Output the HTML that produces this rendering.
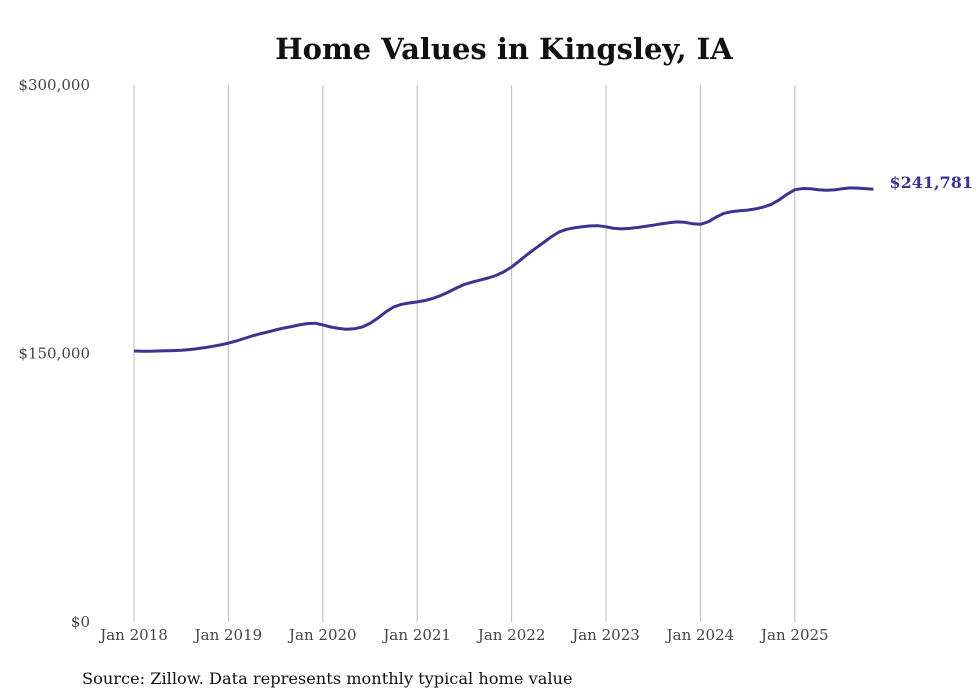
<!DOCTYPE html>
<html><head><meta charset="utf-8">
<style>
body{margin:0;background:#fff;}
svg{display:block;font-family:"DejaVu Serif","Liberation Serif",serif;}
</style></head>
<body>
<svg id="chart" width="980" height="699">
<text x="504" y="59" text-anchor="middle" font-size="29" font-weight="bold" fill="#111">Home Values in Kingsley, IA</text>
<g id="grid"></g>
<g id="yaxis"></g>
<g id="xaxis"></g>
<path id="line" fill="none" stroke="#3b3493" stroke-width="3" stroke-linejoin="round"></path>
<text id="endlabel" font-size="16" font-weight="bold" fill="#3b3493"></text>
<text x="82" y="684" font-size="16.2" fill="#111">Source: Zillow. Data represents monthly typical home value</text>
</svg>
<script>
const startYear = 2018;
const values = [
151.4,151.3,151.3,151.4,151.5,151.6,151.8,152.2,152.7,153.3,154.0,154.8,
155.8,157.0,158.4,159.8,161.0,162.0,163.2,164.2,165.0,166.0,166.7,166.9,
166.0,164.8,164.0,163.6,163.8,164.8,166.8,169.8,173.2,176.0,177.5,178.2,
178.8,179.6,180.8,182.4,184.4,186.6,188.6,189.9,191.0,192.2,193.6,195.6,
198.3,201.8,205.3,208.6,211.8,215.0,217.8,219.4,220.2,220.8,221.3,221.4,
220.8,219.9,219.6,219.9,220.4,221.0,221.7,222.4,223.0,223.5,223.3,222.5,
222.2,223.6,226.2,228.3,229.3,229.7,230.1,230.8,231.8,233.3,235.8,238.9,
241.5,242.2,242.0,241.5,241.2,241.4,242.0,242.5,242.4,242.1,241.781];
const xTickLabels = ["Jan 2018","Jan 2019","Jan 2020","Jan 2021","Jan 2022","Jan 2023","Jan 2024","Jan 2025"];
const yTicks = [0,150,300];
const yTickLabels = ["$0","$150,000","$300,000"];

const NS="http://www.w3.org/2000/svg";
const x0=134, yearW=94.4, yTop=85, yBot=622;
const xs = m => x0 + m*yearW/12;
const ys = v => yBot - v/300*(yBot-yTop);
const grid=document.getElementById('grid'), xa=document.getElementById('xaxis'), ya=document.getElementById('yaxis');
xTickLabels.forEach((l,i)=>{
  const x=xs(i*12);
  const ln=document.createElementNS(NS,'line');
  ln.setAttribute('x1',x);ln.setAttribute('x2',x);ln.setAttribute('y1',yTop);ln.setAttribute('y2',yBot);
  ln.setAttribute('stroke','#bbb');ln.setAttribute('stroke-width','1');
  
  
  grid.appendChild(ln);
  const t=document.createElementNS(NS,'text');
  t.setAttribute('x',x);t.setAttribute('y',640);t.setAttribute('text-anchor','middle');
  t.setAttribute('font-size','15');t.setAttribute('fill','#444');t.textContent=l;
  
  
  xa.appendChild(t);
});
yTicks.forEach((v,i)=>{
  const t=document.createElementNS(NS,'text');
  t.setAttribute('x',90);t.setAttribute('y',ys(v)+5);t.setAttribute('text-anchor','end');
  t.setAttribute('font-size','15');t.setAttribute('fill','#444');t.textContent=yTickLabels[i];
  
  
  ya.appendChild(t);
});
let d='';
values.forEach((v,i)=>{d+=(i?'L':'M')+xs(i).toFixed(1)+','+ys(v).toFixed(1);});
document.getElementById('line').setAttribute('d',d);
const last=values.length-1;
const el=document.getElementById('endlabel');
el.setAttribute('x',xs(last)+16);el.setAttribute('y',ys(values[last])-1);
el.textContent='$'+Math.round(values[last]*1000).toLocaleString('en-US');
</script>
</body></html>
